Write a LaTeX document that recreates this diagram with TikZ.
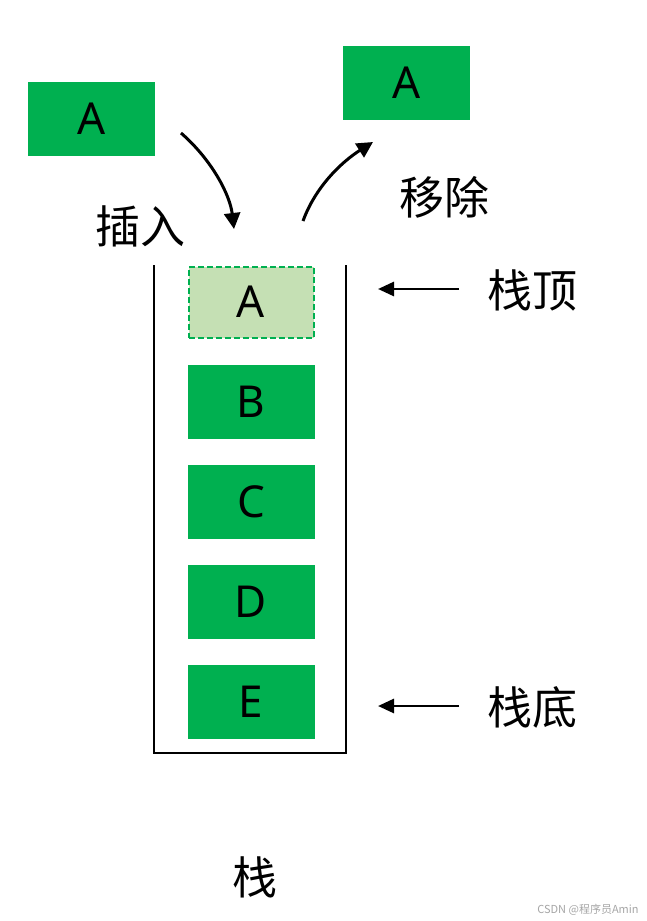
\documentclass[tikz,border=0pt]{standalone}
\usepackage{fontspec}
\setmainfont{Noto Sans CJK SC}
\newfontfamily\latinfont{Noto Sans}
\usetikzlibrary{arrows.meta}
\definecolor{boxgreen}{HTML}{00B050}
\definecolor{lightgreen}{HTML}{C5E0B4}
\begin{document}
\begin{tikzpicture}[x=1pt,y=-1pt,
  item/.style={fill=boxgreen, draw=none, minimum width=127pt, minimum height=74pt, inner sep=0pt, font=\latinfont\fontsize{44}{44}\selectfont},
  topitem/.style={fill=lightgreen, draw=boxgreen, line width=2pt, dash pattern=on 6pt off 3pt, minimum width=125pt, minimum height=71pt, inner sep=0pt, font=\latinfont\fontsize{44}{44}\selectfont},
  lbl/.style={font=\fontsize{45}{45}\selectfont, inner sep=0pt},
  curvearrow/.style={line width=3pt, -{Triangle[length=16pt,width=16pt]}},
  ptr/.style={line width=2.8pt, -{Triangle[length=16pt,width=14pt]}},
  wall/.style={line width=2.5pt}
]
\useasboundingbox (0,0) rectangle (646,921);
\fill[white] (0,0) rectangle (646,921);

% loose items
\node[item] (ain) at (91.5,119) {A};
\node[item] (aout) at (406.5,83) {A};

% stack items
\node[topitem] (sa) at (251,302) {A};
\node[item] (sb) at (251,402) {B};
\node[item] (sc) at (251,502) {C};
\node[item] (sd) at (251,602) {D};
\node[item] (se) at (251,701.5) {E};

% stack walls
\coordinate (wl) at (154,265);
\coordinate (wr) at (346,265);
\draw[wall] (wl) -- (154,753) -- (346,753) -- (wr);

% insert / remove arrows
\coordinate (ins0) at (181,133);
\coordinate (ins1) at (234,229);
\draw[curvearrow] (ins0) .. controls (212,160) and (230,195) .. (ins1);
\coordinate (rem0) at (303,221);
\coordinate (rem1) at (373,142);
\draw[curvearrow] (rem0) .. controls (315,188) and (340,163) .. (rem1);

\node[lbl] (tins) at (140,226) {插入};
\node[lbl] (trem) at (444,197) {移除};

% pointers
\node[lbl] (ttop) at (532,290) {栈顶};
\node[lbl] (tbot) at (532,707) {栈底};
\coordinate (ptop) at (378,289);
\coordinate (pbot) at (378,706);
\draw[ptr] (459,289) -- (ptop);
\draw[ptr] (459,706) -- (pbot);

\node[lbl] (tstack) at (255,877) {栈};

\node[font=\fontsize{11}{11}\selectfont, text=gray!70, inner sep=0pt] (wm) at (588,910) {CSDN @程序员Amin};
\end{tikzpicture}
\end{document}
